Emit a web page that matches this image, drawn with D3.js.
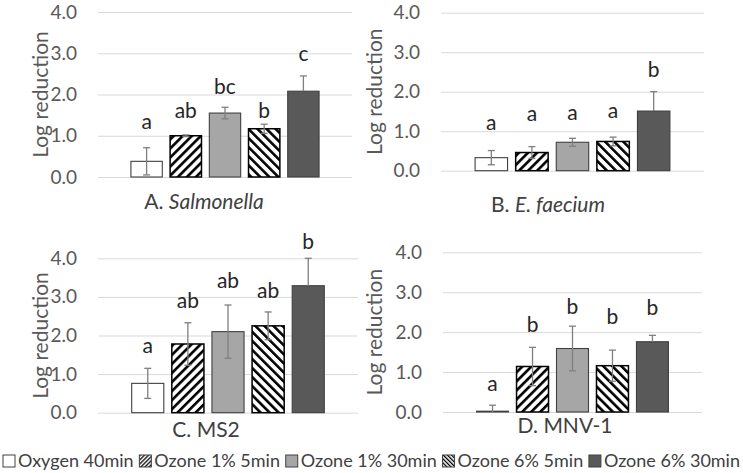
<!DOCTYPE html>
<html>
<head>
<meta charset="utf-8">
<script src="https://cdn.jsdelivr.net/npm/d3@7"></script>
<style>
  body { margin: 0; background: #fff; }
  text { font-family: Lato, "Open Sans", sans-serif; }
</style>
</head>
<body>
<svg id="chart" width="743" height="473"></svg>
<script>
// treatments (one bar each, same order in every panel)
const treatments = ["Oxygen 40min", "Ozone 1% 5min", "Ozone 1% 30min", "Ozone 6% 5min", "Ozone 6% 30min"];
const yTicks = [0, 1, 2, 3, 4];

// panel titles: prefix + organism name (italic for bacteria)
const titlePrefix = ["A. ", "B. ", "C. ", "D. "];
const titleName = ["Salmonella", "E. faecium", "MS2", "MNV-1"];
const titleItalic = [true, true, false, false];

// mean log reduction per treatment
const meanA = [0.38, 1.00, 1.55, 1.17, 2.08];
const meanB = [0.33, 0.46, 0.72, 0.74, 1.51];
const meanC = [0.76, 1.78, 2.10, 2.25, 3.29];
const meanD = [0.02, 1.14, 1.59, 1.16, 1.76];

// standard deviation
const sdA = [0.33, 0.02, 0.14, 0.11, 0.37];
const sdB = [0.18, 0.15, 0.10, 0.11, 0.49];
const sdC = [0.39, 0.55, 0.69, 0.36, 0.71];
const sdD = [0.15, 0.48, 0.56, 0.39, 0.16];

// significance letters and the height (log units) they sit at
const lettersA = ["a", "ab", "bc", "b", "c"];
const lettersB = ["a", "a", "a", "a", "b"];
const lettersC = ["a", "ab", "ab", "ab", "b"];
const lettersD = ["a", "b", "b", "b", "b"];
const letterAtA = [1.17, 1.43, 2.02, 1.43, 2.82];
const letterAtB = [1.03, 1.27, 1.28, 1.33, 2.38];
const letterAtC = [1.55, 2.70, 3.22, 2.98, 4.24];
const letterAtD = [0.53, 2.00, 2.45, 2.20, 2.43];

const means = [meanA, meanB, meanC, meanD];
const sds = [sdA, sdB, sdC, sdD];
const letters = [lettersA, lettersB, lettersC, lettersD];
const letterAt = [letterAtA, letterAtB, letterAtC, letterAtD];

// where each small chart sits on the page
const layout = [
  {x0: 98,  x1: 352, yTop: 12,    yBot: 177,   labelX: 48,  titleX: 204, titleY: 209},
  {x0: 441, x1: 704, yTop: 12.7,  yBot: 170.7, labelX: 382, titleX: 548, titleY: 212},
  {x0: 98,  x1: 358, yTop: 258.3, yBot: 412.7, labelX: 48,  titleX: 206, titleY: 437},
  {x0: 443, x1: 702, yTop: 252.3, yBot: 412,   labelX: 382, titleX: 565, titleY: 433}
];

const fills = ["#ffffff", "url(#hatchFwd)", "#a6a6a6", "url(#hatchBack)", "#595959"];
const legendFills = ["#ffffff", "url(#legFwd)", "#a6a6a6", "url(#legBack)", "#595959"];

const svg = d3.select("#chart");
const defs = svg.append("defs");

function hatch(id, angle, size, stripe) {
  let p = defs.append("pattern")
    .attr("id", id)
    .attr("patternUnits", "userSpaceOnUse")
    .attr("width", size).attr("height", size)
    .attr("patternTransform", "rotate(" + angle + ")");
  p.append("rect").attr("width", size).attr("height", size).attr("fill", "#fff");
  p.append("rect").attr("width", stripe).attr("height", size).attr("fill", "#000");
}
hatch("hatchFwd", 45, 6.4, 2.6);
hatch("hatchBack", -45, 6.4, 2.6);
hatch("legFwd", 45, 2.9, 1.3);
hatch("legBack", -45, 2.9, 1.3);

layout.forEach(function(L, p) {
  let g = svg.append("g");

  let y = d3.scaleLinear().domain([0, 4]).range([L.yBot, L.yTop]);
  let x = d3.scaleBand().domain(treatments).range([L.x0, L.x1])
    .paddingInner(0.2).paddingOuter(0.84);

  // gridlines + tick labels
  let axis = g.append("g")
    .attr("transform", "translate(" + L.x0 + ",0)")
    .call(d3.axisLeft(y).tickValues(yTicks).tickSize(-(L.x1 - L.x0))
      .tickPadding(21).tickFormat(d3.format(".1f")));
  axis.select(".domain").remove();
  axis.selectAll(".tick line").attr("stroke", "#d9d9d9").attr("stroke-width", 1);
  axis.selectAll(".tick text")
    .attr("fill", "#595959")
    .style("font-size", "19px")
    .style("font-family", "Lato, 'Open Sans', sans-serif");

  // axis title
  g.append("text")
    .attr("transform", "translate(" + L.labelX + "," + ((L.yTop + L.yBot) / 2) + ") rotate(-90)")
    .attr("text-anchor", "middle")
    .attr("fill", "#595959")
    .style("font-size", "21px")
    .text("Log reduction");

  let rows = treatments.map(function(t, i) {
    return {t: t, i: i, m: means[p][i], sd: sds[p][i], l: letters[p][i], at: letterAt[p][i]};
  });

  g.selectAll("rect.bar")
    .data(rows)
    .enter()
    .append("rect")
    .attr("class", "bar")
    .attr("x", d => x(d.t))
    .attr("width", x.bandwidth())
    .attr("y", d => y(d.m))
    .attr("height", d => y(0) - y(d.m))
    .attr("fill", d => fills[d.i])
    .attr("stroke", d => (d.i == 1 || d.i == 3) ? "#000" : "#404040")
    .attr("stroke-width", d => (d.i == 1 || d.i == 3) ? 1.5 : 1.1);

  // error bars (the dark series only shows its upper half)
  let eb = g.selectAll("g.err")
    .data(rows)
    .enter()
    .append("g")
    .attr("class", "err")
    .attr("stroke", "#7f7f7f")
    .attr("stroke-width", 1.3);
  let cx = d => x(d.t) + x.bandwidth() / 2;
  let lo = d => d.i == 4 ? y(d.m) : y(Math.max(0, d.m - d.sd));
  let hi = d => y(d.m + d.sd);
  eb.append("line").attr("x1", cx).attr("x2", cx).attr("y1", lo).attr("y2", hi);
  eb.append("line").attr("x1", d => cx(d) - 3.5).attr("x2", d => cx(d) + 3.5).attr("y1", hi).attr("y2", hi);
  eb.filter(d => d.m - d.sd > 0 && d.i != 4).append("line")
    .attr("x1", d => cx(d) - 3.5).attr("x2", d => cx(d) + 3.5).attr("y1", lo).attr("y2", lo);

  // significance letters
  g.selectAll("text.letter")
    .data(rows)
    .enter()
    .append("text")
    .attr("class", "letter")
    .attr("x", cx)
    .attr("y", d => y(d.at))
    .attr("text-anchor", "middle")
    .attr("fill", "#262626")
    .style("font-size", "21px")
    .text(d => d.l);

  // panel title
  let title = g.append("text")
    .attr("x", L.titleX)
    .attr("y", L.titleY)
    .attr("text-anchor", "middle")
    .attr("fill", "#404040")
    .style("font-size", "21px");
  title.append("tspan").text(titlePrefix[p]);
  title.append("tspan").style("font-style", titleItalic[p] ? "italic" : "normal").text(titleName[p]);
});

// legend along the bottom
let leg = svg.append("g").attr("class", "legend");
let items = leg.selectAll("g")
  .data(treatments)
  .enter()
  .append("g");
items.append("rect")
  .attr("width", 12).attr("height", 12)
  .attr("y", 455)
  .attr("fill", (d, i) => legendFills[i])
  .attr("stroke", "#404040")
  .attr("stroke-width", 1);
items.append("text")
  .attr("x", 15)
  .attr("y", 467)
  .attr("fill", "#404040")
  .style("font-size", "18px")
  .text(d => d);

let widths = [];
items.each(function() { widths.push(this.getBBox().width); });
let total = d3.sum(widths);
let gap = (737 - total) / (widths.length - 1);
let pos = 3;
items.attr("transform", function(d, i) {
  let t = "translate(" + pos + ",0)";
  pos += widths[i] + gap;
  return t;
});
</script>
</body>
</html>
